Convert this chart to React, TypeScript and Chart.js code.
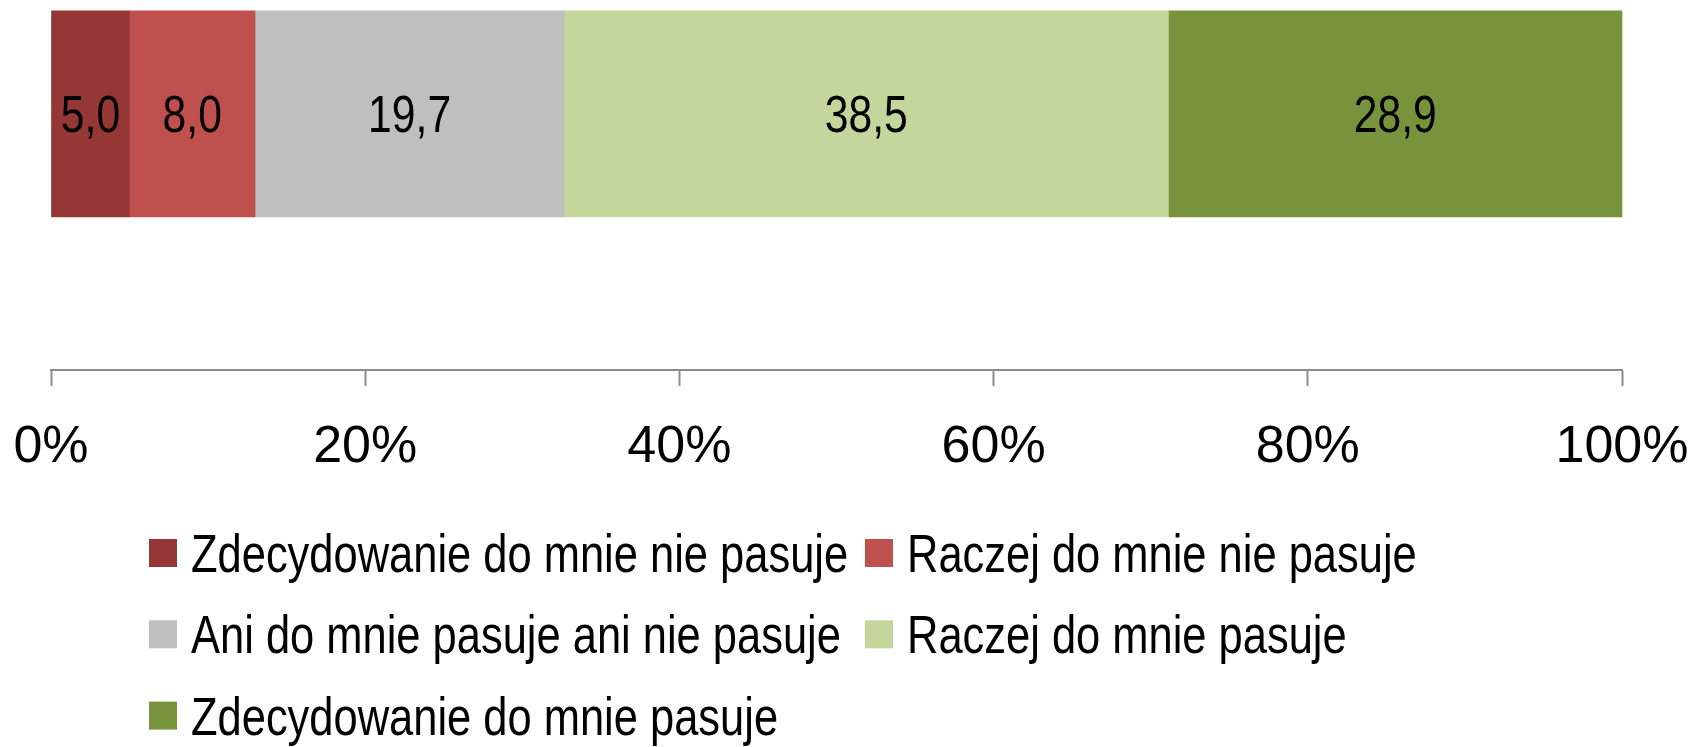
import { useEffect, useRef } from 'react';
import { Chart, registerables } from 'chart.js';

Chart.register(...registerables);

// ---- data ----
const categories = ['Wynik', ''];
const seriesLabels = [
  'Zdecydowanie do mnie nie pasuje',
  'Raczej do mnie nie pasuje',
  'Ani do mnie pasuje ani nie pasuje',
  'Raczej do mnie pasuje',
  'Zdecydowanie do mnie pasuje',
];
const zdecydowanieNie = [5.0, null];
const raczejNie = [8.0, null];
const aniAni = [19.7, null];
const raczejTak = [38.5, null];
const zdecydowanieTak = [28.9, null];
const seriesColors = ['#953735', '#C0504D', '#BFBFBF', '#C3D69B', '#77933C'];
const tickValues = [0, 20, 40, 60, 80, 100];

const FONT = '"Liberation Sans", Arial, sans-serif';
const CONDENSE = 0.82; // narrow (Arial Narrow-like) text

const allSeries = [zdecydowanieNie, raczejNie, aniAni, raczejTak, zdecydowanieTak];

function drawNarrow(ctx: CanvasRenderingContext2D, text: string, x: number, y: number, size: number, align: CanvasTextAlign) {
  ctx.save();
  ctx.font = `${size}px ${FONT}`;
  ctx.textAlign = align;
  ctx.textBaseline = 'alphabetic';
  ctx.translate(x, y + 0.358 * size);
  ctx.scale(CONDENSE, 1);
  ctx.fillText(text, 0, 0);
  ctx.restore();
}

export default function App() {
  const ref = useRef<HTMLCanvasElement | null>(null);

  useEffect(() => {
    const canvas = ref.current;
    if (!canvas) return;

    // 100% stacked: normalise each category to its total
    const totals = categories.map((_, ci) =>
      allSeries.reduce((s, arr) => s + (arr[ci] ?? 0), 0)
    );

    const datasets = allSeries.map((arr, i) => ({
      label: seriesLabels[i],
      data: arr.map((v, ci) => (v == null || !totals[ci] ? null : (v / totals[ci]) * 100)),
      raw: arr,
      backgroundColor: seriesColors[i],
      borderWidth: 0,
      barThickness: 206,
      clip: false as const,
    }));

    const valueLabels = {
      id: 'valueLabels',
      afterDatasetsDraw(chart: any) {
        const ctx = chart.ctx;
        ctx.fillStyle = '#000';
        chart.data.datasets.forEach((ds: any, di: number) => {
          const meta = chart.getDatasetMeta(di);
          meta.data.forEach((el: any, idx: number) => {
            const v = ds.raw[idx];
            if (v == null) return;
            const p = el.getCenterPoint();
            drawNarrow(ctx, v.toFixed(1).replace('.', ','), p.x, p.y, 52, 'center');
          });
        });
      },
    };

    const gridLegend = {
      id: 'gridLegend',
      afterDraw(chart: any) {
        const ctx = chart.ctx;
        const left = 149;
        const colW = 716;
        const firstRow = 553;
        const rowGap = 81.3;
        const box = 28;
        chart.data.datasets.forEach((ds: any, i: number) => {
          const col = i % 2;
          const row = Math.floor(i / 2);
          const x = left + col * colW;
          const y = firstRow + row * rowGap;
          ctx.fillStyle = ds.backgroundColor;
          ctx.fillRect(x, y - box / 2, box, box);
          ctx.fillStyle = '#000';
          drawNarrow(ctx, ds.label, x + box + 14, y, 53, 'left');
        });
      },
    };

    const chart = new Chart(canvas, {
      type: 'bar',
      data: { labels: categories, datasets: datasets as any },
      options: {
        indexAxis: 'y',
        animation: false,
        responsive: false,
        maintainAspectRatio: false,
        layout: { padding: { left: 51, right: 74, top: 28.5, bottom: 237 } },
        plugins: {
          legend: { display: false },
          tooltip: { enabled: false },
          title: { display: false },
        },
        scales: {
          x: {
            stacked: true,
            min: 0,
            max: 100,
            afterBuildTicks(scale: any) {
              scale.ticks = tickValues.map((v) => ({ value: v }));
            },
            grid: {
              display: true,
              drawOnChartArea: false,
              drawTicks: true,
              tickLength: 16,
              tickWidth: 2,
              color: '#8c8c8c',
            },
            border: { display: true, color: '#8c8c8c', width: 2 },
            ticks: {
              padding: 0,
              color: '#000',
              font: { family: FONT, size: 52, lineHeight: 124 / 52 },
              maxRotation: 0,
              autoSkip: false,
              callback: (v: any) => `${v}%`,
            },
          },
          y: {
            stacked: true,
            display: false,
          },
        },
      },
      plugins: [valueLabels, gridLegend],
    });

    return () => chart.destroy();
  }, []);

  return (
    <div style={{ position: 'fixed', left: 0, top: 0, width: 1696, height: 747, background: '#fff' }}>
      <canvas ref={ref} width={1696} height={747} style={{ display: 'block' }} />
    </div>
  );
}
